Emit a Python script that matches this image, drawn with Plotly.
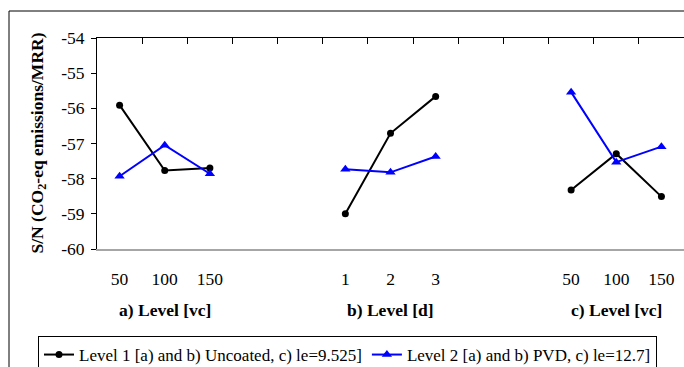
import plotly.graph_objects as go

# ---- data ----
categories = ["50", "100", "150", "", "", "1", "2", "3", "", "", "50", "100", "150"]
level1 = [-55.91, -57.77, -57.70, None, None, -59.00, -56.71, -55.66, None, None, -58.32, -57.29, -58.51]
level2 = [-57.93, -57.05, -57.86, None, None, -57.73, -57.82, -57.37, None, None, -55.54, -57.53, -57.09]
group_labels = ["a) Level [vc]", "b) Level [d]", "c) Level [vc]"]
group_centers = [1, 6, 11]
y_ticks = [-60, -59, -58, -57, -56, -55, -54]
series_names = ["Level 1 [a) and b) Uncoated, c) le=9.525]", "Level 2 [a) and b) PVD, c) le=12.7]"]

FONT = "Liberation Serif"
FS = 17.5
W, H = 684, 367
L, T, PW, PH = 97, 38, 587, 211

def px(xp):
    return (xp - L) / PW

def py(yp):
    return (T + PH - yp) / PH

xs = list(range(len(categories)))
label_idx = [i for i, c in enumerate(categories) if c]

fig = go.Figure()
fig.add_trace(go.Scatter(
    x=xs, y=level1, name=series_names[0], mode="lines+markers",
    line=dict(color="black", width=2), marker=dict(symbol="circle", size=7, color="black"),
    connectgaps=False))
fig.add_trace(go.Scatter(
    x=xs, y=level2, name=series_names[1], mode="lines+markers",
    line=dict(color="#0000FF", width=2), marker=dict(symbol="triangle-up", size=9, color="#0000FF"),
    connectgaps=False))
# invisible trace on the top axis to activate it
fig.add_trace(go.Scatter(x=[0], y=[-60], xaxis="x2", mode="markers",
                         marker=dict(opacity=0), showlegend=False, hoverinfo="skip"))

fig.update_layout(
    width=W, height=H,
    margin=dict(l=L, r=W - L - PW, t=T, b=H - T - PH, autoexpand=False),
    paper_bgcolor="white", plot_bgcolor="white",
    font=dict(family=FONT, size=FS, color="black"),
    xaxis=dict(range=[-0.5, len(categories) - 0.5], tickvals=label_idx,
               ticktext=[categories[i] for i in label_idx],
               showline=True, linecolor="#a6a6a6", linewidth=2,
               ticks="", showgrid=False, zeroline=False, ticklabelstandoff=13,
               tickfont=dict(family=FONT, size=FS)),
    xaxis2=dict(range=[-0.5, len(categories) - 0.5], overlaying="x", side="top",
                tickvals=[i + 0.5 for i in xs[:-1]], showticklabels=False,
                ticks="inside", ticklen=6, tickcolor="black", tickwidth=1,
                showline=True, linecolor="black", linewidth=1, showgrid=False, zeroline=False),
    yaxis=dict(range=[-60, -54], tickvals=y_ticks, ticktext=[str(v) for v in y_ticks],
               ticks="outside", ticklen=5, tickcolor="black", showline=True, linecolor="black",
               linewidth=1, showgrid=False, zeroline=False, ticklabelstandoff=3,
               tickfont=dict(family=FONT, size=FS)),
    legend=dict(orientation="h", x=px(38), y=py(336), xanchor="left", yanchor="top",
                bordercolor="black", borderwidth=1, bgcolor="white",
                font=dict(family=FONT, size=17)),
    showlegend=True,
)

fig.add_shape(type="rect", xref="paper", yref="paper",
              x0=px(9), x1=px(700), y0=py(390), y1=py(11),
              line=dict(color="black", width=1), fillcolor="rgba(0,0,0,0)", layer="below")

fig.add_annotation(xref="paper", yref="paper", x=px(38), y=py(143.5),
                   text="<b>S/N (CO<sub>2</sub>-eq emissions/MRR)</b>", textangle=-90,
                   showarrow=False, font=dict(family=FONT, size=FS), xanchor="center", yanchor="middle")
for lab, c in zip(group_labels, group_centers):
    fig.add_annotation(xref="x", yref="paper", x=c, y=py(310), text="<b>%s</b>" % lab,
                       showarrow=False, font=dict(family=FONT, size=FS),
                       xanchor="center", yanchor="middle")

fig.write_html("out.html", config={"displayModeBar": False},
               post_script="document.body.style.margin='0';document.body.style.overflow='hidden';")
